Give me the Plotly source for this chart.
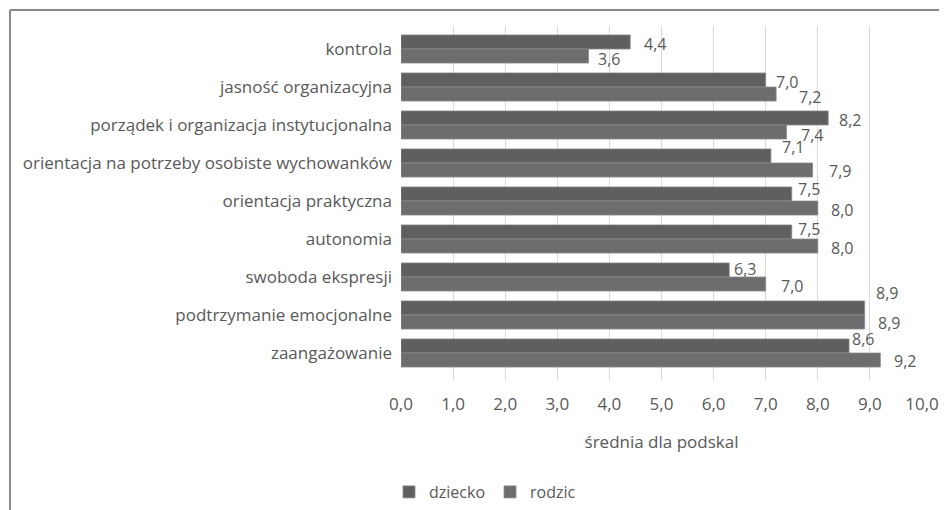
import plotly.graph_objects as go

categories = [
    "kontrola",
    "jasność organizacyjna",
    "porządek i organizacja instytucjonalna",
    "orientacja na potrzeby osobiste wychowanków",
    "orientacja praktyczna",
    "autonomia",
    "swoboda ekspresji",
    "podtrzymanie emocjonalne",
    "zaangażowanie",
]
dziecko = [4.4, 7.0, 8.2, 7.1, 7.5, 7.5, 6.3, 8.9, 8.6]
rodzic = [3.6, 7.2, 7.4, 7.9, 8.0, 8.0, 7.0, 8.9, 9.2]
x_ticks = [0, 1, 2, 3, 4, 5, 6, 7, 8, 9, 10]
x_title = "średnia dla podskal"

# label placement offsets (px) relative to bar end / category centre (styling only)
dx_d = [25, 21, 22, 22, 17, 17, 16, 22, 14]
dy_d = [5, 5, 5, 16, 12, 10, 8, 22, 14]
dx_r = [20, 34, 25, 27, 24, 24, 26, 24, 25]
dy_r = [-10, -10, -10, -8, -9, -9, -9, -8, -8]

FONT = "Open Sans"
TXT = "#595959"

fig = go.Figure()
for name, vals, col in [("dziecko", dziecko, "#5f5f61"), ("rodzic", rodzic, "#6d6d6f")]:
    fig.add_trace(go.Bar(
        name=name, y=categories, x=vals, orientation="h",
        marker=dict(color=col, line=dict(color="#8c8c8c", width=0.8)),
    ))

annotations = []
for vals, dxs, dys in [(dziecko, dx_d, dy_d), (rodzic, dx_r, dy_r)]:
    for cat, v, dx, dy in zip(categories, vals, dxs, dys):
        annotations.append(dict(
            x=v, y=cat, xref="x", yref="y", text=f"{v:.1f}".replace(".", ","),
            showarrow=False, xanchor="center", yanchor="middle",
            xshift=dx, yshift=dy,
            font=dict(family=FONT, size=16, color=TXT),
        ))

W, H = 939, 502
L, R, T, B = 393, 25, 18, 130
pw, ph = W - L - R, H - T - B

def px(x):
    return (x - L) / pw

def py(y):
    return (H - B - y) / ph

fig.update_layout(
    width=W, height=H,
    margin=dict(l=L, r=R, t=T, b=B, autoexpand=False),
    paper_bgcolor="white", plot_bgcolor="white",
    separators=", ",
    barmode="group", bargap=0.26, bargroupgap=0,
    font=dict(family=FONT, size=17, color=TXT),
    xaxis=dict(
        range=[0, 10], tickvals=x_ticks, tickformat=".1f",
        showgrid=True, gridcolor="#d9d9d9", gridwidth=1,
        zeroline=False, showline=False,
        tickfont=dict(family=FONT, size=17, color=TXT),
        title=dict(text=x_title, font=dict(family=FONT, size=17, color=TXT), standoff=22),
        ticks="", ticklabelstandoff=12,
    ),
    yaxis=dict(
        autorange="reversed", showgrid=False, zeroline=False, showline=False,
        ticks="", ticklabelstandoff=8,
        tickfont=dict(family=FONT, size=17, color=TXT),
    ),
    legend=dict(
        orientation="h", x=px(381), xanchor="left", y=py(484), yanchor="middle",
        font=dict(family=FONT, size=16, color=TXT),
        itemwidth=30, traceorder="normal",
    ),
    annotations=annotations,
    shapes=[
        dict(type="line", xref="paper", yref="paper", x0=px(2), x1=px(W + 5), y0=py(2), y1=py(2),
             line=dict(color="#8a8a8a", width=2)),
        dict(type="line", xref="paper", yref="paper", x0=px(2), x1=px(2), y0=py(2), y1=py(H + 5),
             line=dict(color="#8a8a8a", width=2)),
    ],
)

fig.write_html("out.html")
